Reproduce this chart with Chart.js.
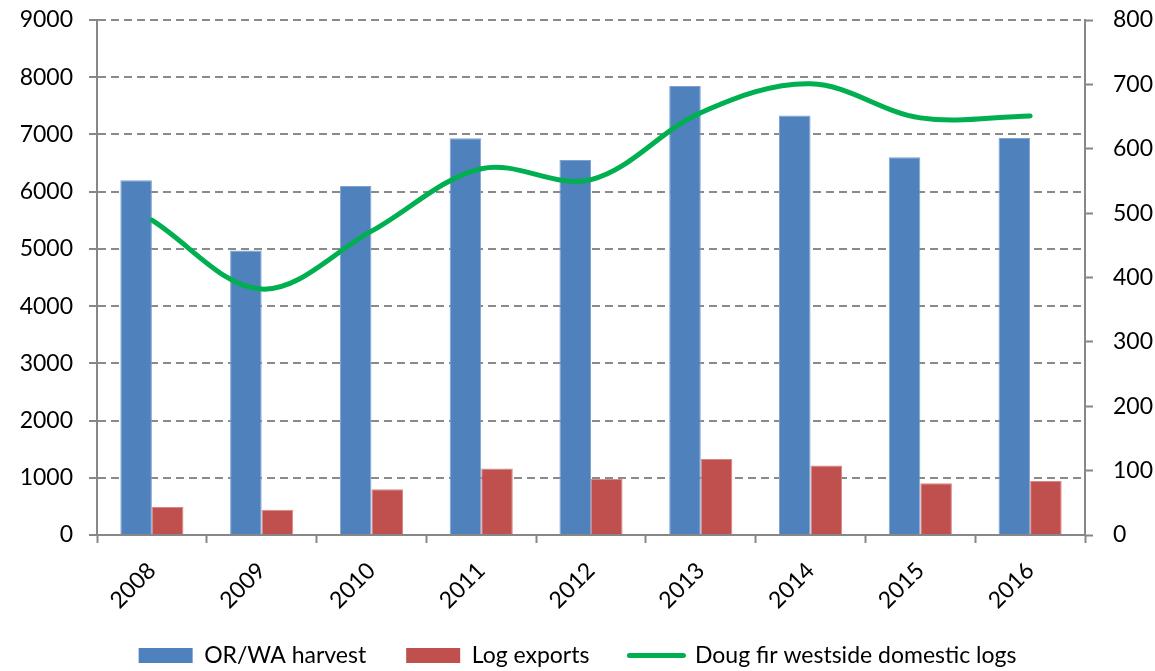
<!DOCTYPE html>
<html>
<head>
<meta charset="utf-8">
<script src="https://cdn.jsdelivr.net/npm/chart.js@4/dist/chart.umd.min.js"></script>
<style>
  html, body { margin: 0; padding: 0; background: #fff; }
  #wrap { width: 1155px; height: 671px; }
</style>
</head>
<body>
<div id="wrap"><canvas id="myChart" width="1155" height="671"></canvas></div>
<script>
const years = ['2008', '2009', '2010', '2011', '2012', '2013', '2014', '2015', '2016']
const harvest = [6200, 4970, 6100, 6935, 6555, 7845, 7330, 6600, 6940]
const logExports = [490, 440, 800, 1160, 980, 1330, 1215, 905, 945]
const dougFir = [489, 382, 472, 569, 552, 656, 701, 648, 651]

const leftTicks = { min: 0, max: 9000, step: 1000 }
const rightTicks = { min: 0, max: 800, step: 100 }

const gray = '#878787'
const fontFamily = 'Lato, "Liberation Sans", sans-serif'
const tickFont = { family: fontFamily, size: 23 }

const datasets = [
    {
        type: 'bar',
        label: 'OR/WA harvest',
        data: harvest,
        backgroundColor: '#4F81BD',
        borderColor: '#7FA2D0',
        borderWidth: 1,
        yAxisID: 'y',
        order: 1,
        barPercentage: 1,
        categoryPercentage: 0.575
    },
    {
        type: 'bar',
        label: 'Log exports',
        data: logExports,
        backgroundColor: '#C0504D',
        borderColor: '#D88784',
        borderWidth: 1,
        yAxisID: 'y',
        order: 1,
        barPercentage: 1,
        categoryPercentage: 0.575
    },
    {
        type: 'line',
        label: 'Doug fir westside domestic logs',
        data: dougFir,
        borderColor: '#00B050',
        backgroundColor: '#00B050',
        borderWidth: 5,
        borderCapStyle: 'round',
        pointRadius: 0,
        tension: 0.35,
        yAxisID: 'y1',
        order: 0
    }
]

// the vertical axes should not push the plot down for their top label
const noVerticalPadding = (scale) => {
    scale.paddingTop = 0
    scale.paddingBottom = 0
}

const config = {
    data: { labels: years, datasets },
    options: {
        responsive: false,
        animation: false,
        layout: { padding: { top: 20, left: 0, right: 0, bottom: -6 } },
        plugins: {
            tooltip: { enabled: false },
            legend: {
                position: 'bottom',
                labels: {
                    color: '#000',
                    font: { family: fontFamily, size: 23 },
                    usePointStyle: true,
                    pointStyleWidth: 54,
                    boxHeight: 15,
                    padding: 40,
                    sort: (a, b) => a.datasetIndex - b.datasetIndex,
                    generateLabels: (chart) => {
                        const items = Chart.defaults.plugins.legend.labels.generateLabels(chart)
                        return items.map(item => {
                            const ds = chart.data.datasets[item.datasetIndex]
                            if (ds.type === 'line') {
                                item.pointStyle = 'line'
                                item.strokeStyle = ds.borderColor
                                item.lineWidth = 5
                                item.lineCap = 'round'
                            } else {
                                item.pointStyle = 'rect'
                                item.fillStyle = ds.backgroundColor
                                item.lineWidth = 0
                            }
                            return item
                        })
                    }
                }
            }
        },
        scales: {
            x: {
                grid: {
                    offset: true,
                    drawOnChartArea: false,
                    drawTicks: true,
                    tickLength: 8,
                    color: gray,
                    tickWidth: 2
                },
                border: { color: gray, width: 2 },
                ticks: {
                    color: '#000',
                    font: tickFont,
                    maxRotation: 45,
                    minRotation: 45,
                    padding: 14
                },
                afterFit: (scale) => {
                    scale.height = 69
                    // let the rotated year labels run past the axis box
                    scale._computeLabelArea = () => undefined
                }
            },
            y: {
                position: 'left',
                min: leftTicks.min,
                max: leftTicks.max,
                grid: {
                    color: '#8A8A8A',
                    lineWidth: 2,
                    tickLength: 8,
                    tickWidth: 2,
                    tickColor: gray,
                    tickBorderDash: []
                },
                border: { color: gray, width: 2, dash: [8, 5] },
                ticks: {
                    stepSize: leftTicks.step,
                    color: '#000',
                    font: tickFont,
                    padding: 16,
                    callback: (value) => String(value)
                },
                afterFit: (scale) => {
                    scale.width = 97
                    noVerticalPadding(scale)
                }
            },
            y1: {
                position: 'right',
                min: rightTicks.min,
                max: rightTicks.max,
                grid: {
                    drawOnChartArea: false,
                    color: gray,
                    tickLength: 8,
                    tickWidth: 2
                },
                border: { color: gray, width: 2 },
                ticks: {
                    stepSize: rightTicks.step,
                    color: '#000',
                    font: tickFont,
                    padding: 20,
                    callback: (value) => String(value)
                },
                afterFit: (scale) => {
                    scale.width = 70
                    noVerticalPadding(scale)
                }
            }
        }
    }
}

const myChart = document.getElementById('myChart')
const myCanvaChart = new Chart(myChart, config)
</script>
</body>
</html>
